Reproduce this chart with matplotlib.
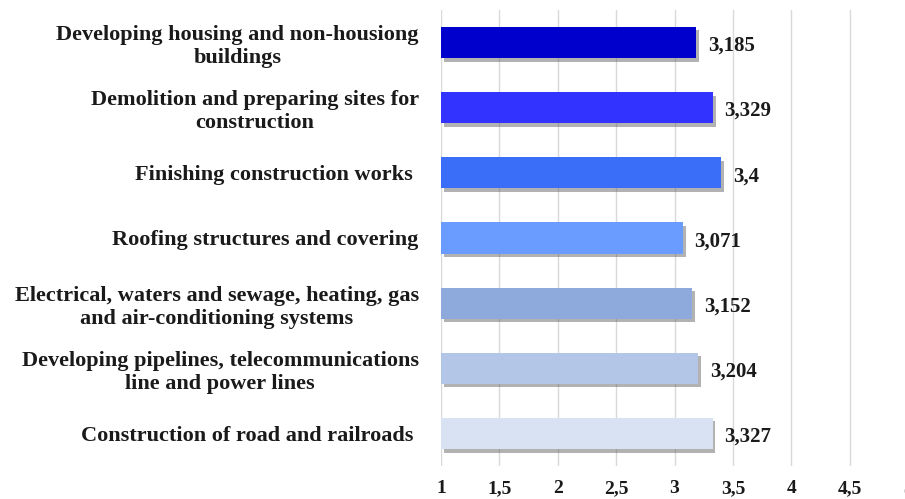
import matplotlib.pyplot as plt
import matplotlib.patheffects as pe
from matplotlib.ticker import FuncFormatter

categories = [
    "Developing housing and non-housiong\nbuildings",
    "Demolition and preparing sites for\nconstruction",
    "Finishing construction works ",
    "Roofing structures and covering",
    "Electrical, waters and sewage, heating, gas\nand air-conditioning systems",
    "Developing pipelines, telecommunications\nline and power lines",
    "Construction of road and railroads ",
]
values = [3.185, 3.329, 3.4, 3.071, 3.152, 3.204, 3.327]
value_labels = ["3,185", "3,329", "3,4", "3,071", "3,152", "3,204", "3,327"]
colors = ["#0000cc", "#3333ff", "#3a6ef8", "#6a9cff", "#8eaadc", "#b3c6e8", "#d9e2f3"]

plt.rcParams['font.family'] = ['Liberation Serif', 'DejaVu Serif']
plt.rcParams['font.weight'] = 'bold'

fig = plt.figure(figsize=(9.05, 4.99), dpi=100)
# axes runs a bit past the right edge, so the "5" tick is cut off
ax = fig.add_axes([441 / 905, 1 - 466 / 499, (908 - 441) / 905, (466 - 10) / 499])

ypos = list(range(len(values)))
bars = ax.barh(ypos, [v - 1 for v in values], left=1, height=0.48, color=colors,
               zorder=3)
for b in bars:
    b.set_path_effects([pe.SimplePatchShadow(offset=(2, -2.5), shadow_rgbFace='#555555',
                                             alpha=0.45), pe.Normal()])

for y, v, lab in zip(ypos, values, value_labels):
    ax.text(v + 0.1, y + 0.05, lab, va='center', ha='left', fontsize=15,
            fontweight='bold', color='#1a1a1a')

ax.set_xlim(1, 5)
ax.set_ylim(6.5, -0.5)
ax.set_xticks([1, 1.5, 2, 2.5, 3, 3.5, 4, 4.5, 5])
ax.xaxis.set_major_formatter(FuncFormatter(lambda x, p: ('%g' % x).replace('.', ',')))
ax.set_yticks(ypos)
ax.set_yticklabels(categories, multialignment='center', linespacing=1.2)
ax.tick_params(axis='y', length=0, pad=16, labelsize=16)
ax.tick_params(axis='x', length=0, pad=10, labelsize=14)
for lab in ax.get_xticklabels() + ax.get_yticklabels():
    lab.set_fontweight('bold')
    lab.set_color('#1a1a1a')

ax.grid(axis='x', color='#d9d9d9', linewidth=1, zorder=0)
for s in ax.spines.values():
    s.set_visible(False)

fig.savefig("out.png", dpi=100)
